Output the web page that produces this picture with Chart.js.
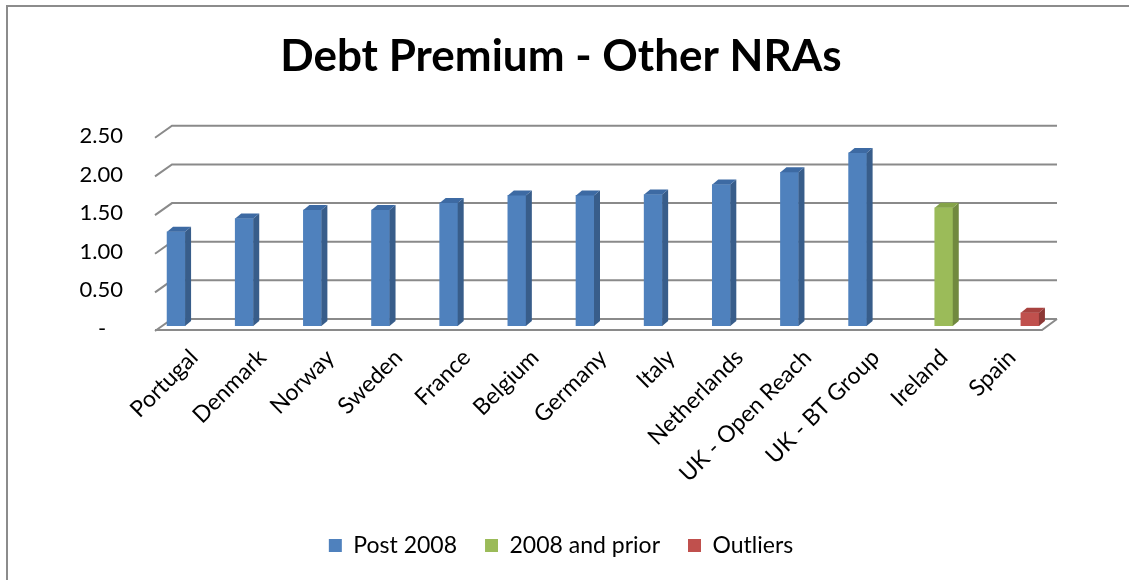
<!DOCTYPE html>
<html>
<head>
<meta charset="utf-8">
<script src="https://cdn.jsdelivr.net/npm/chart.js@4"></script>
<style>
  html, body { margin: 0; padding: 0; background: #fff; }
  #wrap { position: relative; width: 1129px; height: 580px; overflow: hidden; }
  #frame { position: absolute; left: 6px; top: 5px; width: 1140px; height: 600px;
           border-left: 2px solid #8c8c8c; border-top: 2px solid #8c8c8c; }
  canvas { position: absolute; left: 0; top: 0; }
</style>
</head>
<body>
<div id="wrap">
  <div id="frame"></div>
  <canvas id="debtChart" width="1129" height="580"></canvas>
</div>
<script>
const countries = ["Portugal", "Denmark", "Norway", "Sweden", "France", "Belgium", "Germany",
  "Italy", "Netherlands", "UK - Open Reach", "UK - BT Group", "Ireland", "Spain"];
const post2008 = [1.22, 1.39, 1.50, 1.50, 1.59, 1.69, 1.69, 1.70, 1.83, 1.99, 2.24, null, null];
const prior2008 = [null, null, null, null, null, null, null, null, null, null, null, 1.53, null];
const outliers = [null, null, null, null, null, null, null, null, null, null, null, null, 0.17];
const yTicks = [0, 0.5, 1, 1.5, 2, 2.5];

const FONT = "Lato, 'Open Sans', sans-serif";

// darker side / lighter top for the fake 3D look
const sideColors = ["#385d8a", "#71893f", "#8c3836"];
const topColors = ["#3d6aa3", "#85a348", "#a8423f"];

const gridPlugin = {
  id: "grid3d",
  beforeDatasetsDraw(chart) {
    const ctx = chart.ctx;
    const y = chart.scales.y;
    const left = chart.chartArea.left, right = chart.chartArea.right;
    ctx.save();
    ctx.strokeStyle = "#8a8a8a";
    ctx.lineWidth = 2;
    yTicks.forEach(v => {
      const py = y.getPixelForValue(v) - 7;
      ctx.beginPath();
      ctx.moveTo(left - 5, py + 12);
      ctx.lineTo(left + 12, py);
      ctx.lineTo(right + 11, py);
      ctx.stroke();
    });
    // floor front edge
    const fy = y.getPixelForValue(0) + 4;
    ctx.beginPath();
    ctx.moveTo(left - 5, fy);
    ctx.lineTo(right - 4, fy);
    ctx.lineTo(right + 11, fy - 11);
    ctx.stroke();
    ctx.restore();
  },
  afterDatasetsDraw(chart) {
    const ctx = chart.ctx;
    ctx.save();
    chart.data.datasets.forEach((ds, i) => {
      chart.getDatasetMeta(i).data.forEach((bar, j) => {
        if (ds.data[j] == null) return;
        const p = bar.getProps(["x", "y", "base", "width"], true);
        const x1 = p.x - p.width / 2, x2 = p.x + p.width / 2;
        const dx = 6, dy = 5;
        ctx.fillStyle = sideColors[i];
        ctx.beginPath();
        ctx.moveTo(x2, p.y);
        ctx.lineTo(x2 + dx, p.y - dy);
        ctx.lineTo(x2 + dx, p.base - dy);
        ctx.lineTo(x2, p.base);
        ctx.closePath();
        ctx.fill();
        ctx.fillStyle = topColors[i];
        ctx.beginPath();
        ctx.moveTo(x1, p.y);
        ctx.lineTo(x1 + dx, p.y - dy);
        ctx.lineTo(x2 + dx, p.y - dy);
        ctx.lineTo(x2, p.y);
        ctx.closePath();
        ctx.fill();
      });
    });
    ctx.restore();
  }
};

new Chart(document.getElementById("debtChart"), {
  type: "bar",
  data: {
    labels: countries,
    datasets: [
      { label: "Post 2008", data: post2008, backgroundColor: "#4f81bd", barThickness: 18 },
      { label: "2008 and prior", data: prior2008, backgroundColor: "#9bbb59", barThickness: 18 },
      { label: "Outliers", data: outliers, backgroundColor: "#c0504d", barThickness: 18 },
    ],
  },
  options: {
    responsive: false,
    animation: false,
    layout: { padding: { left: 76, right: 83, top: 0, bottom: 13 } },
    plugins: {
      title: {
        display: true,
        text: "Debt Premium - Other NRAs",
        color: "#000",
        font: { family: FONT, size: 44, weight: "bold" },
        padding: { top: 30, bottom: 50 },
      },
      legend: {
        position: "bottom",
        labels: {
          color: "#000",
          font: { family: FONT, size: 23 },
          boxWidth: 13,
          boxHeight: 13,
          padding: 28,
        },
      },
      tooltip: { enabled: false },
    },
    scales: {
      x: {
        grid: { display: false, drawTicks: false },
        border: { display: false },
        afterFit(scale) { scale.height = 180; },
        ticks: {
          color: "#000",
          autoSkip: false,
          minRotation: 45,
          maxRotation: 45,
          padding: 18,
          font: { family: FONT, size: 23 },
        },
      },
      y: {
        min: 0,
        max: 2.5,
        grid: { display: false, drawTicks: false },
        border: { display: false },
        afterFit(scale) { scale.width = 84; },
        afterBuildTicks(scale) { scale.ticks = yTicks.map(v => ({ value: v })); },
        ticks: {
          color: "#000",
          padding: 37,
          labelOffset: 3,
          font: { family: FONT, size: 22 },
          callback: v => (v === 0 ? "-   " : v.toFixed(2)),
        },
      },
    },
  },
  plugins: [gridPlugin],
});
</script>
</body>
</html>
